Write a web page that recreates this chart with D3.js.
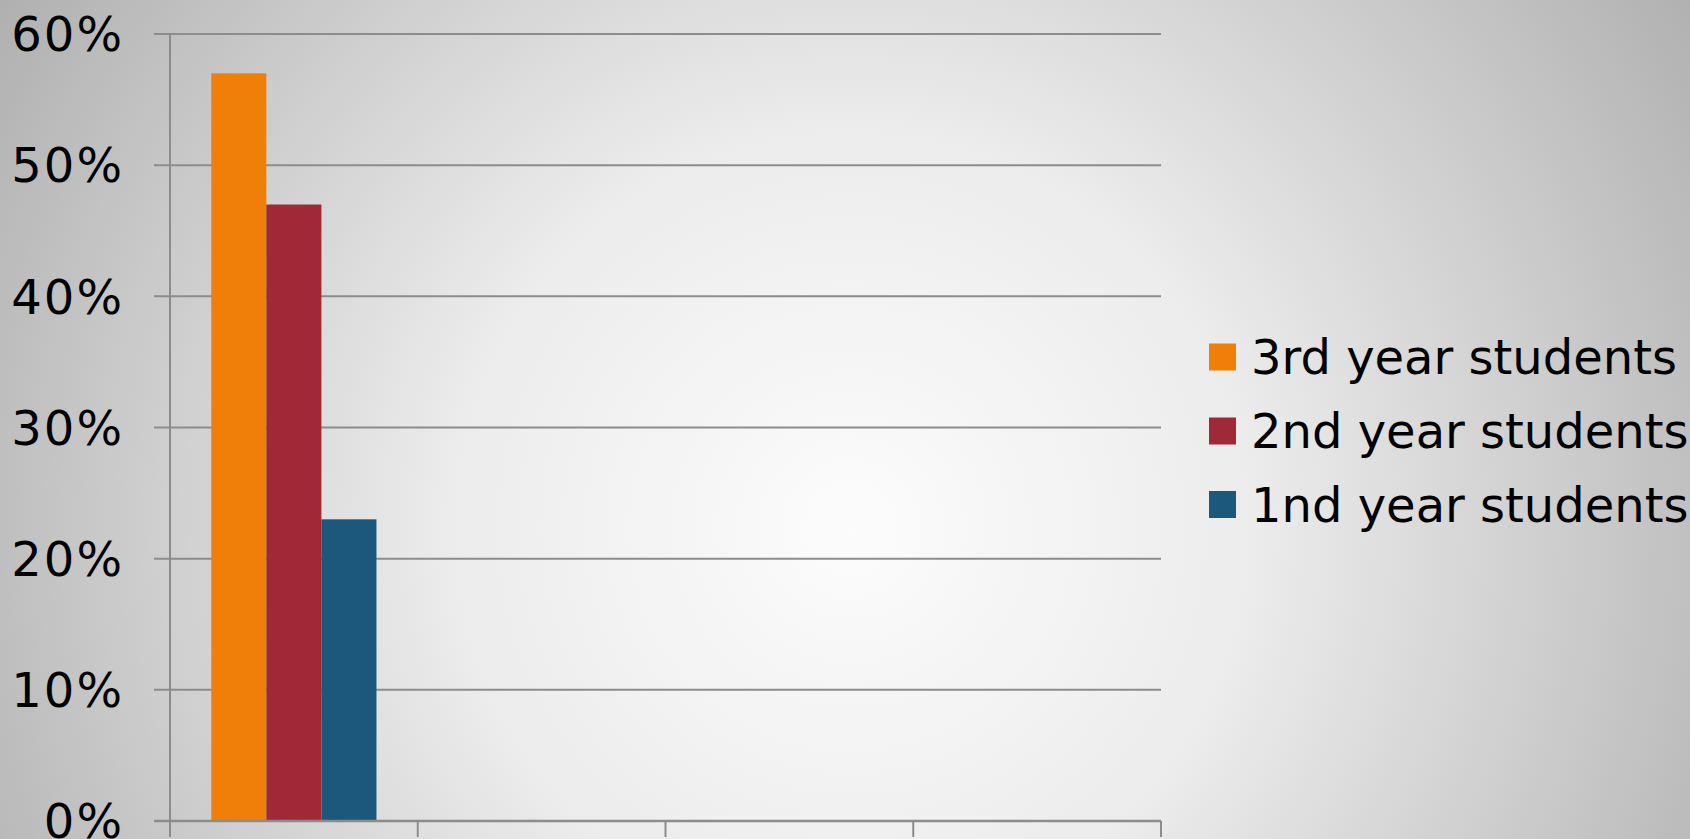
<!DOCTYPE html>
<html>
<head>
<meta charset="utf-8">
<script src="https://cdn.jsdelivr.net/npm/d3@7"></script>
<style>
html,body{margin:0;padding:0;overflow:hidden;}
svg{display:block;font-family:"DejaVu Sans",Verdana,sans-serif;}
</style>
</head>
<body>
<svg id="chart" width="1690" height="839"></svg>
<script>
const categories = ["A", "B", "C", "D"];
const seriesNames = ["3rd year students", "2nd year students", "1nd year students"];
const seriesColors = ["#f07f09", "#9f2936", "#1b587c"];
const values3rd = [0.57, null, null, null];
const values2nd = [0.47, null, null, null];
const values1st = [0.23, null, null, null];
const yTicks = [0, 0.1, 0.2, 0.3, 0.4, 0.5, 0.6];

const seriesValues = [values3rd, values2nd, values1st];

const W = 1690, H = 839;
const svg = d3.select("#chart");

const defs = svg.append("defs");
const grad = defs.append("radialGradient").attr("id", "bg")
  .attr("gradientUnits", "userSpaceOnUse")
  .attr("cx", 851).attr("cy", 528).attr("r", 1000);
grad.append("stop").attr("offset", 0).attr("stop-color", "#fcfcfc");
grad.append("stop").attr("offset", 0.4).attr("stop-color", "#ececec");
grad.append("stop").attr("offset", 1).attr("stop-color", "#b0b0b0");
svg.append("rect").attr("width", W).attr("height", H).attr("fill", "url(#bg)");

const plot = {left: 170, right: 1161, top: 34, bottom: 821};

const x = d3.scaleBand().domain(categories).range([plot.left, plot.right]);
const x1 = d3.scaleBand().domain(d3.range(seriesNames.length))
  .range([0, x.bandwidth()]).paddingInner(0).paddingOuter(0.75);
const y = d3.scaleLinear().domain([0, 0.6]).range([plot.bottom, plot.top]);

const gridColor = "#8c8c8c";

// gridlines
svg.append("g").selectAll("line").data(yTicks).join("line")
  .attr("x1", plot.left - 16).attr("x2", plot.right)
  .attr("y1", d => y(d)).attr("y2", d => y(d))
  .attr("stroke", gridColor).attr("stroke-width", 2);

// bars
const rows = [];
categories.forEach((c, ci) => {
  seriesValues.forEach((vals, si) => {
    if (vals[ci] != null) rows.push({c, si, v: vals[ci]});
  });
});
svg.append("g").selectAll("rect").data(rows).join("rect")
  .attr("x", d => x(d.c) + x1(d.si))
  .attr("width", x1.bandwidth())
  .attr("y", d => y(d.v))
  .attr("height", d => y(0) - y(d.v))
  .attr("fill", d => seriesColors[d.si]);

// y axis line
svg.append("line").attr("x1", plot.left).attr("x2", plot.left)
  .attr("y1", plot.top).attr("y2", plot.bottom + 16)
  .attr("stroke", gridColor).attr("stroke-width", 2);

// x axis line and ticks
svg.append("line").attr("x1", plot.left - 16).attr("x2", plot.right)
  .attr("y1", plot.bottom).attr("y2", plot.bottom)
  .attr("stroke", gridColor).attr("stroke-width", 2.5);
const boundaries = categories.map(c => x(c) + x.bandwidth());
svg.append("g").selectAll("line").data(boundaries).join("line")
  .attr("x1", d => d).attr("x2", d => d)
  .attr("y1", plot.bottom).attr("y2", plot.bottom + 16)
  .attr("stroke", gridColor).attr("stroke-width", 2);

// y labels
svg.append("g").selectAll("text").data(yTicks).join("text")
  .attr("x", 124).attr("y", d => y(d))
  .attr("dy", "0.36em")
  .attr("text-anchor", "end")
  .attr("font-size", 48)
  .attr("letter-spacing", 2)
  .attr("fill", "#000")
  .text(d => d3.format(".0%")(d));

// legend
const legend = svg.append("g");
const legY = [357, 431, 504.5];
seriesNames.forEach((name, i) => {
  legend.append("rect").attr("x", 1209).attr("y", legY[i] - 13.5)
    .attr("width", 27).attr("height", 27).attr("fill", seriesColors[i]);
  legend.append("text").attr("x", 1251).attr("y", legY[i])
    .attr("dy", "0.36em").attr("font-size", 48).attr("fill", "#000")
    .text(name);
});
</script>
</body>
</html>
